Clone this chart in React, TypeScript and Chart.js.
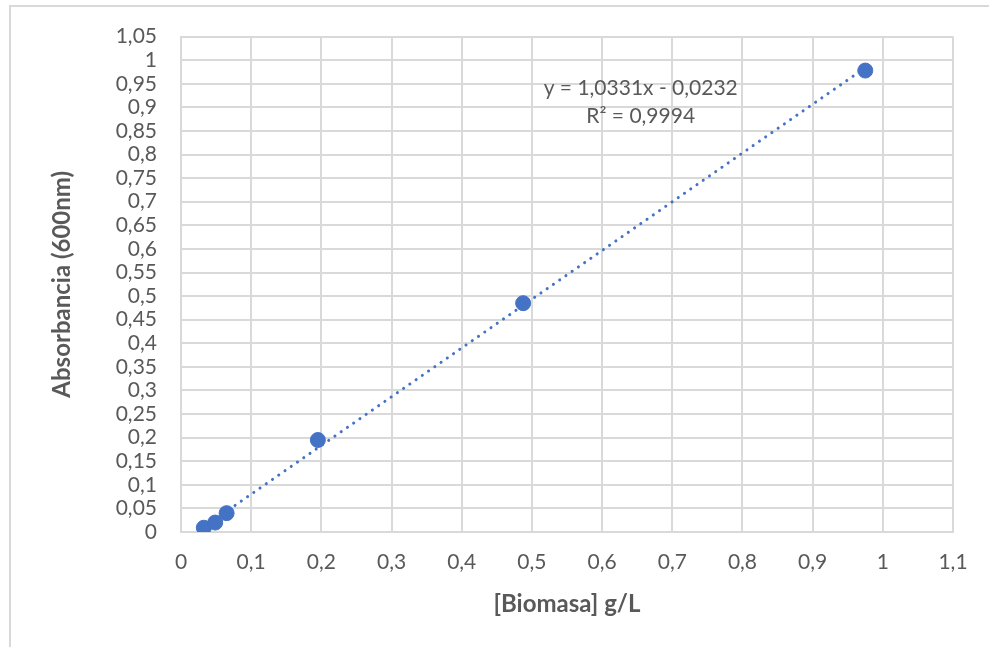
import React, { useEffect, useRef } from "react";
import { Chart, registerables } from "chart.js";

Chart.register(...registerables);

const biomasa = [0.0325, 0.04875, 0.065, 0.195, 0.4875, 0.975];
const absorbancia = [0.009, 0.02, 0.04, 0.195, 0.485, 0.978];
const xTicks = [0, 0.1, 0.2, 0.3, 0.4, 0.5, 0.6, 0.7, 0.8, 0.9, 1, 1.1];
const yTicks = [
  0, 0.05, 0.1, 0.15, 0.2, 0.25, 0.3, 0.35, 0.4, 0.45, 0.5, 0.55, 0.6, 0.65,
  0.7, 0.75, 0.8, 0.85, 0.9, 0.95, 1, 1.05,
];
const slope = 1.0331;
const intercept = -0.0232;
const equationLines = ["y = 1,0331x - 0,0232", "R² = 0,9994"];
const equationAnchor = { x: 0.655, y: [0.94, 0.881] };

const TEXT = "#595959";
const GRID = "#d9d9d9";
const BLUE = "#4472C4";
const FONT = "Lato, 'Open Sans', sans-serif";

const fmt = (v: number) => String(Number(v.toFixed(3))).replace(".", ",");

export default function App() {
  const ref = useRef<HTMLCanvasElement>(null);
  useEffect(() => {
    if (!ref.current) return;
    const xMin = Math.min(...biomasa);
    const xMax = Math.max(...biomasa);
    const trend = [
      { x: xMin, y: slope * xMin + intercept },
      { x: xMax, y: slope * xMax + intercept },
    ];
    const labelPlugin = {
      id: "eqLabel",
      afterDatasetsDraw(chart: any) {
        const { ctx, scales } = chart;
        ctx.save();
        ctx.fillStyle = TEXT;
        ctx.font = `21px ${FONT}`;
        ctx.textAlign = "center";
        ctx.textBaseline = "middle";
        equationLines.forEach((t, i) => {
          ctx.fillText(
            t,
            scales.x.getPixelForValue(equationAnchor.x),
            scales.y.getPixelForValue(equationAnchor.y[i])
          );
        });
        ctx.restore();
      },
    };
    const chart = new Chart(ref.current, {
      type: "scatter",
      data: {
        datasets: [
          {
            label: "Absorbancia",
            data: biomasa.map((x, i) => ({ x, y: absorbancia[i] })),
            backgroundColor: BLUE,
            borderColor: BLUE,
            pointRadius: 7.5,
            pointHoverRadius: 7.5,
            order: 1,
          },
          {
            label: "Tendencia",
            data: trend,
            showLine: true,
            borderColor: BLUE,
            borderWidth: 3,
            borderDash: [0.1, 7.5],
            borderCapStyle: "round",
            pointRadius: 0,
            order: 2,
          } as any,
        ],
      },
      options: {
        animation: false,
        responsive: false,
        devicePixelRatio: 1,
        layout: { padding: { left: 0, right: 36, top: 34, bottom: 0 } },
        plugins: { legend: { display: false }, tooltip: { enabled: false } },
        scales: {
          x: {
            type: "linear",
            min: 0,
            max: 1.1,
            afterBuildTicks: (s: any) => {
              s.ticks = xTicks.map((v) => ({ value: v }));
            },
            afterFit: (s: any) => {
              s.height = 115;
            },
            ticks: {
              color: TEXT,
              font: { family: FONT, size: 21 },
              padding: 18,
              autoSkip: false,
              maxRotation: 0,
              callback: (v: any) => fmt(Number(v)),
            },
            grid: { color: GRID, lineWidth: 2, drawTicks: false },
            border: { color: GRID, width: 2 },
            title: {
              display: true,
              text: "[Biomasa] g/L",
              color: TEXT,
              font: { family: FONT, size: 24, weight: "bold" },
              padding: { top: 0, bottom: 28 },
            },
          },
          y: {
            type: "linear",
            min: 0,
            max: 1.05,
            afterBuildTicks: (s: any) => {
              s.ticks = yTicks.map((v) => ({ value: v }));
            },
            afterFit: (s: any) => {
              s.width = 181;
            },
            ticks: {
              color: TEXT,
              font: { family: FONT, size: 21 },
              padding: 24,
              autoSkip: false,
              callback: (v: any) => fmt(Number(v)),
            },
            grid: { color: GRID, lineWidth: 2, drawTicks: false },
            border: { color: GRID, width: 2 },
            title: {
              display: true,
              text: "Absorbancia (600nm)",
              color: TEXT,
              font: { family: FONT, size: 24, weight: "bold" },
              padding: { top: 48, bottom: 0 },
            },
          },
        },
      },
      plugins: [labelPlugin],
    });
    return () => chart.destroy();
  }, []);

  return (
    <div
      style={{
        position: "absolute",
        left: 0,
        top: 0,
        width: 989,
        height: 647,
        overflow: "hidden",
        background: "#fff",
      }}
    >
      <div
        style={{
          position: "absolute",
          left: 9,
          top: 5,
          width: 1100,
          height: 800,
          border: `2px solid ${GRID}`,
        }}
      />
      <canvas
        ref={ref}
        width={989}
        height={647}
        style={{ position: "absolute", left: 0, top: 0 }}
      />
    </div>
  );
}
